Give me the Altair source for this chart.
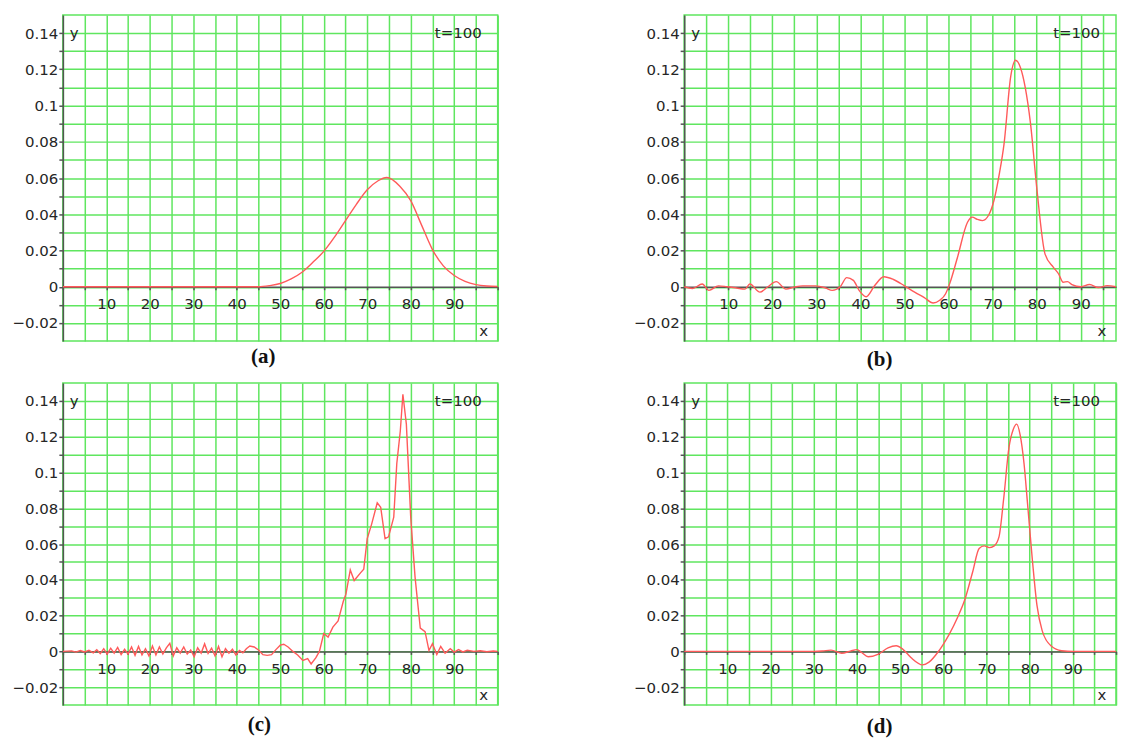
import altair as alt
import pandas as pd

# ---------------- data ----------------
xa = [0, 5, 10, 15, 20, 25, 30, 35, 40, 45,
      47.5, 50, 52.5, 55, 57.5, 60, 62.5, 65, 67.5, 70,
      72.5, 74.5, 77.5, 80, 82.5, 85, 87.5, 90, 92.5, 95,
      97.5, 100]
ya = [0, 0, 0, 0, 0, 0, 0, 0, 0, 0,
      0.0006, 0.0018, 0.0043, 0.008, 0.0135, 0.0195, 0.0275, 0.0365, 0.0455, 0.0535,
      0.0585, 0.0603, 0.0555, 0.0475, 0.034, 0.0205, 0.0115, 0.0062, 0.003, 0.0012,
      0.0004, 0.0001]

xb = [0, 1.9, 4.1, 5.6, 7.8, 9.7, 11.9, 13.8, 14.9, 17.2,
      19, 20.9, 23.1, 25, 26.9, 29.9, 32.1, 33.6, 35.4, 36.9,
      38.4, 39.7, 41.3, 43.2, 45.3, 47.5, 50, 52.3, 54.5, 56.5,
      58, 59.3, 60.3, 62, 64.3, 65.4, 66.5, 67.7, 69.2, 70.3,
      71.5, 72.6, 74.1, 75.2, 76.3, 77.4, 78.6, 80, 81.9, 83.8,
      85, 86, 87, 88, 90, 92, 94, 96, 98]
yb = [0, -0.001, 0.0015, -0.002, 0.0005, 0, -0.0007, -0.0013, 0.0015, -0.003,
      0, 0.0028, -0.0013, -0.0002, 0.0005, 0.0005, -0.0007, -0.002, 0, 0.005,
      0.0035, -0.002, -0.0055, 0.0005, 0.0055, 0.004, 0.0005, -0.003, -0.006, -0.009,
      -0.0075, -0.004, 0.002, 0.016, 0.0356, 0.0384, 0.0372, 0.0365, 0.040, 0.0476,
      0.062, 0.079, 0.116, 0.125, 0.121, 0.110, 0.090, 0.055, 0.018, 0.0107,
      0.007, 0.0025, 0.0028, 0.0012, 0, 0.0012, -0.0004, 0.0006, 0]

xc = [0, 2, 3, 4, 5, 6, 7, 7.8, 8.6, 9.4,
      10.2, 11, 11.8, 12.6, 13.4, 14.2, 15, 15.8, 16.6, 17.4,
      18.2, 19, 19.8, 20.6, 21.4, 22.2, 23, 23.8, 24.6, 25.4,
      26.2, 27, 27.8, 28.6, 29.4, 30.2, 31, 31.8, 32.6, 33.4,
      34.2, 35, 35.8, 36.6, 37.4, 38.2, 39, 39.8, 40.6, 41.4,
      42.2, 43, 44, 45, 46, 47, 48, 49, 50, 50.8,
      51.8, 52.9, 54, 55.2, 56.3, 57.1, 58.2, 59, 60, 61,
      62.1, 63.3, 64.5, 65.1, 66.1, 67, 68.5, 69.2, 70, 71,
      72.3, 73.1, 74.1, 74.9, 76.1, 76.8, 77.6, 78.2, 79, 80,
      81, 82.2, 83.3, 84.2, 85, 86, 86.9, 87.9, 89.1, 90,
      91, 92, 93, 94.5, 96, 97.5, 99, 100]
yc = [0, 0.0003, -0.0004, 0.0005, -0.0003, 0.0006, -0.0008, 0.001, -0.0012, 0.0015,
      -0.0015, 0.0018, -0.001, 0.0022, -0.0018, 0.0012, -0.0015, 0.0025, -0.0022, 0.0028,
      -0.002, 0.0015, -0.0025, 0.003, -0.002, 0.0025, -0.0015, 0.002, 0.0045, -0.0025,
      0.002, -0.001, 0.0025, -0.0015, 0.0008, -0.003, 0.002, -0.001, 0.0042, -0.0012,
      0.0018, -0.0025, 0.0028, -0.003, 0.0015, -0.001, 0.0012, -0.002, 0.0005, -0.0008,
      0.0015, 0.003, 0.0025, 0.0008, -0.0018, -0.0022, -0.0018, 0.001, 0.0035, 0.004,
      0.0025, 0, -0.002, -0.005, -0.004, -0.007, -0.0035, 0, 0.01, 0.008,
      0.0136, 0.017, 0.028, 0.032, 0.0455, 0.0396, 0.044, 0.046, 0.063, 0.071,
      0.083, 0.0805, 0.063, 0.064, 0.075, 0.105, 0.123, 0.1437, 0.127, 0.075,
      0.0415, 0.013, 0.011, 0.0005, 0.0043, -0.0017, 0.0028, -0.001, 0.0015, -0.0004,
      0.001, -0.0003, 0.0006, 0, 0.0004, -0.0002, 0.0002, 0]

xd = [0, 5, 10, 15, 20, 25, 30, 32, 34, 36.5,
      38.5, 40, 41.1, 42.6, 45, 47.2, 49.1, 50.6, 52.5, 55.2,
      56.7, 58.7, 60, 61.4, 63.3, 65, 66.8, 68.3, 69.5, 70.6,
      71.8, 72.9, 74, 75.2, 76.2, 77, 77.8, 78.7, 79.5, 80.6,
      81.7, 82.9, 85, 87.4, 90, 95, 100]
yd = [0, 0, 0, 0, 0, 0, 0, 0.0002, 0.0007, -0.001,
      0.0002, 0.001, -0.0006, -0.003, -0.0015, 0.002, 0.0032, 0.0013, -0.0034, -0.0075,
      -0.006, -0.0006, 0.004, 0.0097, 0.019, 0.029, 0.0444, 0.0575, 0.059, 0.058,
      0.059, 0.064, 0.0856, 0.1137, 0.124, 0.127, 0.121, 0.105, 0.083, 0.052,
      0.0257, 0.0116, 0.003, 0.0004, 0, 0, 0]

x_ticks = list(range(0, 101, 5))
y_ticks = [round(-0.02 + 0.01 * i, 2) for i in range(17)]   # -0.02 .. 0.14
y_domain = [-0.03, 0.15]
captions = ["(a)", "(b)", "(c)", "(d)"]
time_label = "t=100"

# ---------------- styling ----------------
GRID = "#5fe65f"
AXIS = "#555555"
RED = "#ff5a5a"
FONT = "DejaVu Sans"
LBL = "#262626"
FS = 15


def panel(xs, ys, xmax, w, h, cap, cap_x, cap_dy, interp):
    df = pd.DataFrame({"x": xs, "y": ys})
    xv = [v for v in x_ticks if v <= xmax]
    xscale = alt.Scale(domain=[0, xmax], nice=False, zero=False)
    yscale = alt.Scale(domain=y_domain, nice=False, zero=False)
    xaxis = alt.Axis(
        values=xv, format="d",
        labelExpr="datum.value % 10 == 0 && datum.value > 0 && datum.value < 100 ? datum.label : ''",
        offset=-h * 0.03 / 0.18, grid=True, gridColor=GRID, gridWidth=1.5, gridOpacity=1,
        domainColor=AXIS, domainWidth=1.5, tickColor=AXIS, tickWidth=1.5, tickSize=3,
        labelPadding=7, labelOverlap=False, labelFlush=False, title=None,
    )
    yaxis = alt.Axis(
        values=y_ticks, format="~g",
        labelExpr="(abs(round(datum.value*100)) % 2 == 0) ? datum.label : ''",
        grid=True, gridColor=GRID, gridWidth=1.5, gridOpacity=1,
        domainColor=AXIS, domainWidth=1.5, tickColor=AXIS, tickWidth=1.5, tickSize=4,
        labelPadding=1, labelOverlap=False, labelFlush=False, title=None,
    )
    line = alt.Chart(df).mark_line(
        color=RED, strokeWidth=1.4, interpolate=interp, clip=True
    ).encode(
        x=alt.X("x:Q", scale=xscale, axis=xaxis),
        y=alt.Y("y:Q", scale=yscale, axis=yaxis),
    )
    top_y = h * 0.01 / 0.18  # pixel row of the 0.14 gridline
    txt = dict(font=FONT, fontSize=FS, color=LBL)
    ylab = alt.Chart(pd.DataFrame({"t": ["y"]})).mark_text(
        align="left", baseline="middle", **txt
    ).encode(x=alt.value(7), y=alt.value(top_y), text="t:N")
    tlab = alt.Chart(pd.DataFrame({"t": [time_label]})).mark_text(
        align="right", baseline="middle", **txt
    ).encode(x=alt.value(w - 16), y=alt.value(top_y), text="t:N")
    xlab = alt.Chart(pd.DataFrame({"t": ["x"]})).mark_text(
        align="center", baseline="middle", **txt
    ).encode(x=alt.value(w - 14), y=alt.value(h - 10), text="t:N")
    caption = alt.Chart(pd.DataFrame({"t": [cap]})).mark_text(
        align="center", baseline="middle", font="Liberation Serif",
        fontSize=21, fontWeight="bold", color="#111111"
    ).encode(x=alt.value(cap_x), y=alt.value(h + cap_dy), text="t:N")
    return alt.layer(line, ylab, tlab, xlab, caption).properties(width=w, height=h)


pa = panel(xa, ya, 100, 436, 327, captions[0], 201, 16, "monotone")
pb = panel(xb, yb, 98, 433, 327, captions[1], 196, 19, "monotone")
pc = panel(xc, yc, 100, 436, 323, captions[2], 197, 20, "linear")
pd_ = panel(xd, yd, 100, 433, 323, captions[3], 196, 22, "monotone")

chart = alt.concat(
    pa, pb, pc, pd_, columns=2, spacing={"row": 42, "column": 187}, bounds="flush"
).properties(
    padding={"left": 3, "top": 5, "right": 0, "bottom": 0}
).configure_axis(
    labelFont=FONT, labelFontSize=FS, labelColor=LBL
).configure_view(
    stroke=GRID, strokeWidth=1.5, fill="white"
)

chart.save("out.html", embed_options={"renderer": "svg", "actions": False})
